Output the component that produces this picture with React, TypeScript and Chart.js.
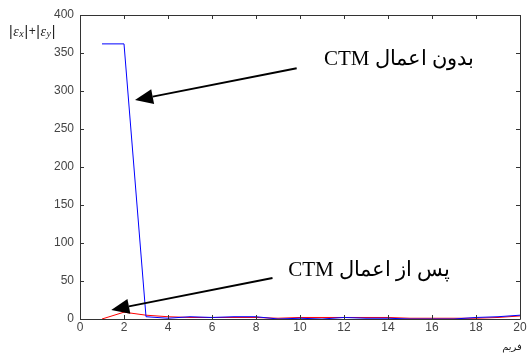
import React, { useEffect, useRef } from "react";
import { Chart, registerables } from "chart.js";

Chart.register(...registerables);

const frames = [1, 2, 3, 4, 5, 6, 7, 8, 9, 10, 11, 12, 13, 14, 15, 16, 17, 18, 19, 20];
const withoutCTM = [362, 362, 3, 1, 3, 2, 3, 3, 0, 1, 0, 2, 1, 1, 0, 0, 0, 2, 3, 5];
const withCTM = [0, 9, 5, 3, 2, 2, 2, 2, 1, 2, 2, 2, 2, 2, 1, 1, 1, 1, 2, 4];
const xTicks = [0, 2, 4, 6, 8, 10, 12, 14, 16, 18, 20];
const yTicks = [0, 50, 100, 150, 200, 250, 300, 350, 400];
const labelWithout = "بدون اعمال CTM";
const labelWith = "پس از اعمال CTM";
const xTitle = "فریم";
// annotations in data coordinates: [tailX, tailY, headX, headY]
const arrowWithout = [9.85, 330, 2.5, 288];
const arrowWith = [8.75, 54, 1.42, 12];
const textWithout = [14.5, 342];
const textWith = [13.15, 64];

const TICK_FONT = "12px 'Liberation Sans', Arial, sans-serif";
const TICK_COLOR = "#444";

function drawArrow(ctx: CanvasRenderingContext2D, x1: number, y1: number, x2: number, y2: number) {
  const ang = Math.atan2(y2 - y1, x2 - x1);
  const hl = 18, hw = 7.5;
  const bx = x2 - hl * Math.cos(ang);
  const by = y2 - hl * Math.sin(ang);
  ctx.save();
  ctx.strokeStyle = "#000";
  ctx.fillStyle = "#000";
  ctx.lineWidth = 2;
  ctx.beginPath();
  ctx.moveTo(x1, y1);
  ctx.lineTo(bx, by);
  ctx.stroke();
  ctx.beginPath();
  ctx.moveTo(x2, y2);
  ctx.lineTo(bx + hw * Math.sin(ang), by - hw * Math.cos(ang));
  ctx.lineTo(bx - hw * Math.sin(ang), by + hw * Math.cos(ang));
  ctx.closePath();
  ctx.fill();
  ctx.restore();
}

const decorPlugin = {
  id: "decor",
  afterDraw(chart: any) {
    const ctx: CanvasRenderingContext2D = chart.ctx;
    const { left, right, top, bottom } = chart.chartArea;
    const xs = chart.scales.x;
    const ys = chart.scales.y;
    ctx.save();
    // box
    ctx.strokeStyle = "#333";
    ctx.lineWidth = 1;
    ctx.beginPath();
    ctx.moveTo(left + 0.5, top + 0.5);
    ctx.lineTo(right + 0.5, top + 0.5);
    ctx.lineTo(right + 0.5, bottom + 0.5);
    ctx.lineTo(left + 0.5, bottom + 0.5);
    ctx.closePath();
    ctx.stroke();
    // inward ticks
    ctx.beginPath();
    for (const t of xTicks) {
      const px = Math.round(xs.getPixelForValue(t)) + 0.5;
      ctx.moveTo(px, bottom);
      ctx.lineTo(px, bottom - 4);
      ctx.moveTo(px, top);
      ctx.lineTo(px, top + 4);
    }
    for (const t of yTicks) {
      const py = Math.round(ys.getPixelForValue(t)) + 0.5;
      ctx.moveTo(left, py);
      ctx.lineTo(left + 4, py);
      ctx.moveTo(right, py);
      ctx.lineTo(right - 4, py);
    }
    ctx.stroke();
    // tick labels
    ctx.fillStyle = TICK_COLOR;
    ctx.font = TICK_FONT;
    ctx.textAlign = "center";
    ctx.textBaseline = "top";
    for (const t of xTicks) {
      ctx.fillText(String(t), xs.getPixelForValue(t), bottom + 3);
    }
    ctx.textAlign = "right";
    ctx.textBaseline = "middle";
    for (const t of yTicks) {
      ctx.fillText(String(t), left - 6, ys.getPixelForValue(t));
    }
    // y title |ex|+|ey|
    ctx.fillStyle = "#222";
    let cx = 9;
    const by = 36;
    const parts: [string, string, number][] = [
      ["|", "14px 'Liberation Sans', Arial", 0],
      ["ε", "italic 14px 'Liberation Serif', serif", 0],
      ["x", "italic 10px 'Liberation Serif', serif", 1],
      ["|", "14px 'Liberation Sans', Arial", 0],
      ["+", "12px 'Liberation Sans', Arial", -1],
      ["|", "14px 'Liberation Sans', Arial", 0],
      ["ε", "italic 14px 'Liberation Serif', serif", 0],
      ["y", "italic 10px 'Liberation Serif', serif", 1],
      ["|", "14px 'Liberation Sans', Arial", 0],
    ];
    ctx.textAlign = "left";
    ctx.textBaseline = "alphabetic";
    for (const [s, f, dy] of parts) {
      ctx.font = f;
      ctx.fillText(s, cx, by + dy);
      cx += ctx.measureText(s).width + 0.6;
    }
    // x title
    ctx.font = "10px 'DejaVu Sans', sans-serif";
    ctx.textAlign = "center";
    ctx.textBaseline = "middle";
    ctx.direction = "rtl";
    ctx.fillText(xTitle, 512, 347);
    // annotations
    ctx.fillStyle = "#000";
    ctx.font = "21px 'Liberation Serif', 'DejaVu Serif', serif";
    ctx.fillText(labelWithout, xs.getPixelForValue(textWithout[0]), ys.getPixelForValue(textWithout[1]));
    ctx.fillText(labelWith, xs.getPixelForValue(textWith[0]), ys.getPixelForValue(textWith[1]));
    ctx.direction = "ltr";
    drawArrow(ctx, xs.getPixelForValue(arrowWithout[0]), ys.getPixelForValue(arrowWithout[1]),
      xs.getPixelForValue(arrowWithout[2]), ys.getPixelForValue(arrowWithout[3]));
    drawArrow(ctx, xs.getPixelForValue(arrowWith[0]), ys.getPixelForValue(arrowWith[1]),
      xs.getPixelForValue(arrowWith[2]), ys.getPixelForValue(arrowWith[3]));
    ctx.restore();
  },
};

export default function App() {
  const ref = useRef<HTMLCanvasElement | null>(null);
  useEffect(() => {
    if (!ref.current) return;
    const chart = new Chart(ref.current, {
      type: "line",
      data: {
        datasets: [
          {
            label: "without",
            data: frames.map((f, i) => ({ x: f, y: withoutCTM[i] })),
            borderColor: "#0000ff",
            borderWidth: 1,
            pointRadius: 0,
            tension: 0,
          },
          {
            label: "with",
            data: frames.map((f, i) => ({ x: f, y: withCTM[i] })),
            borderColor: "#ff0000",
            borderWidth: 1,
            pointRadius: 0,
            tension: 0,
          },
        ],
      },
      options: {
        animation: false,
        responsive: false,
        maintainAspectRatio: false,
        layout: { padding: { left: 0, top: 15, right: 9, bottom: 0 } },
        plugins: { legend: { display: false }, tooltip: { enabled: false } },
        scales: {
          x: {
            type: "linear",
            min: 0,
            max: 20,
            grid: { display: false },
            border: { display: false },
            ticks: { display: false },
            afterFit: (s: any) => { s.height = 37; },
          },
          y: {
            min: 0,
            max: 400,
            grid: { display: false },
            border: { display: false },
            ticks: { display: false },
            afterFit: (s: any) => { s.width = 80; },
          },
        },
      },
      plugins: [decorPlugin],
    } as any);
    return () => chart.destroy();
  }, []);
  return (
    <div style={{ position: "fixed", left: 0, top: 0, width: 529, height: 356, background: "#fff" }}>
      <canvas ref={ref} width={529} height={356} style={{ width: 529, height: 356 }} />
    </div>
  );
}
